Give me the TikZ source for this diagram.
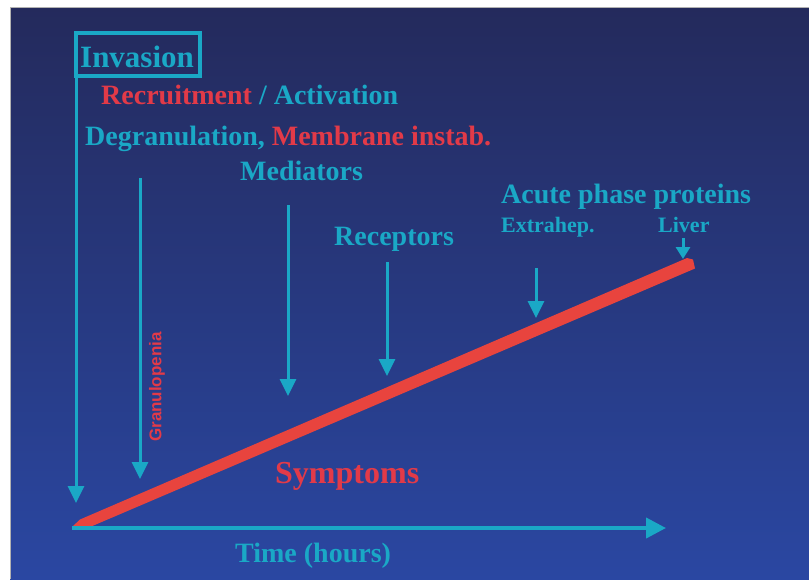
\documentclass[tikz,border=0pt]{standalone}
\usepackage{fontspec}
\setmainfont{Liberation Serif}
\newfontfamily\granfont{Liberation Sans}
\usetikzlibrary{arrows.meta}
\definecolor{bgtop}{HTML}{242A5C}
\definecolor{bgmid}{HTML}{27358A}
\definecolor{bgbot}{HTML}{2A47A2}
\definecolor{cy}{HTML}{1AA8C6}
\definecolor{rd}{HTML}{E23A48}
\definecolor{rline}{HTML}{E8443E}
\tikzset{
  lbl/.style={anchor=base west, inner sep=0pt, font=\bfseries\fontsize{28}{30}\selectfont},
  cylbl/.style={lbl, text=cy},
  rdlbl/.style={lbl, text=rd},
  smlbl/.style={anchor=base west, inner sep=0pt, text=cy, font=\bfseries\fontsize{22}{24}\selectfont},
  downarrow/.style={draw=cy, line width=3pt, -{Triangle[length=17pt,width=16pt]}},
}
\begin{document}
\begin{tikzpicture}[x=1pt,y=-1pt]
\useasboundingbox (0,0) rectangle (809,579);
\fill[white] (0,0) rectangle (809,579);
\shade[top color=bgtop, middle color=bgmid, bottom color=bgbot] (10,7) rectangle (809,579);
\draw[gray!60, line width=1pt] (10,579) -- (10,7) -- (809,7);

% Invasion box
\node[anchor=base west, inner sep=0pt, text=cy, font=\bfseries\fontsize{31}{33}\selectfont] (inv) at (80,67) {Invasion};
\draw[cy, line width=3.5pt] (76,33) rectangle (200,76);
\coordinate (invtop) at (76,33);
\coordinate (invtip) at (76,503);
\draw[downarrow] (invtop) -- (invtip);

% Texts
\node[rdlbl] (recr) at (101,104) {Recruitment \textcolor{cy}{/ Activation}};
\node[cylbl] (degr) at (85,145) {Degranulation, \textcolor{rd}{Membrane instab.}};
\node[cylbl] (medi) at (240,180) {Mediators};
\node[cylbl] (rece) at (334,245) {Receptors};
\node[cylbl] (acut) at (501,203) {Acute phase proteins};
\node[smlbl] (extr) at (501,232) {Extrahep.};
\node[smlbl] (livr) at (658,232) {Liver};
\node[anchor=base west, inner sep=0pt, text=rd, font=\bfseries\fontsize{32}{34}\selectfont] (symp) at (275,483) {Symptoms};
\node[cylbl] (time) at (235,562) {Time (hours)};
\node[rotate=90, text=rd, inner sep=0pt, font=\granfont\bfseries\fontsize{17}{19}\selectfont] (gran) at (157,387) {Granulopenia};

% Arrow endpoints
\coordinate (a1s) at (140,178); \coordinate (a1e) at (140,479);
\coordinate (a2s) at (288,205); \coordinate (a2e) at (288,396);
\coordinate (a3s) at (387,262); \coordinate (a3e) at (387,376);
\coordinate (a4s) at (536,268); \coordinate (a4e) at (536,318);
\coordinate (a5s) at (683,238); \coordinate (a5e) at (683,259);
\draw[downarrow] (a1s) -- (a1e);
\draw[downarrow] (a2s) -- (a2e);
\draw[downarrow] (a3s) -- (a3e);
\draw[downarrow] (a4s) -- (a4e);
\draw[draw=cy, line width=3pt, -{Triangle[length=12pt,width=14pt]}] (a5s) -- (a5e);

% Symptoms line
\coordinate (o) at (73,526);
\coordinate (top) at (689,264);
\fill[rline] (o) -- (80,519.5) -- (687,258) -- (693,259.5) -- (695,268.5) -- (90,527) -- cycle;

% Time axis
\coordinate (ax0) at (72,528);
\coordinate (ax1) at (666,528);
\draw[cy, line width=4pt, -{Triangle[length=20pt,width=20pt]}] (ax0) -- (ax1);
\end{tikzpicture}
\end{document}
